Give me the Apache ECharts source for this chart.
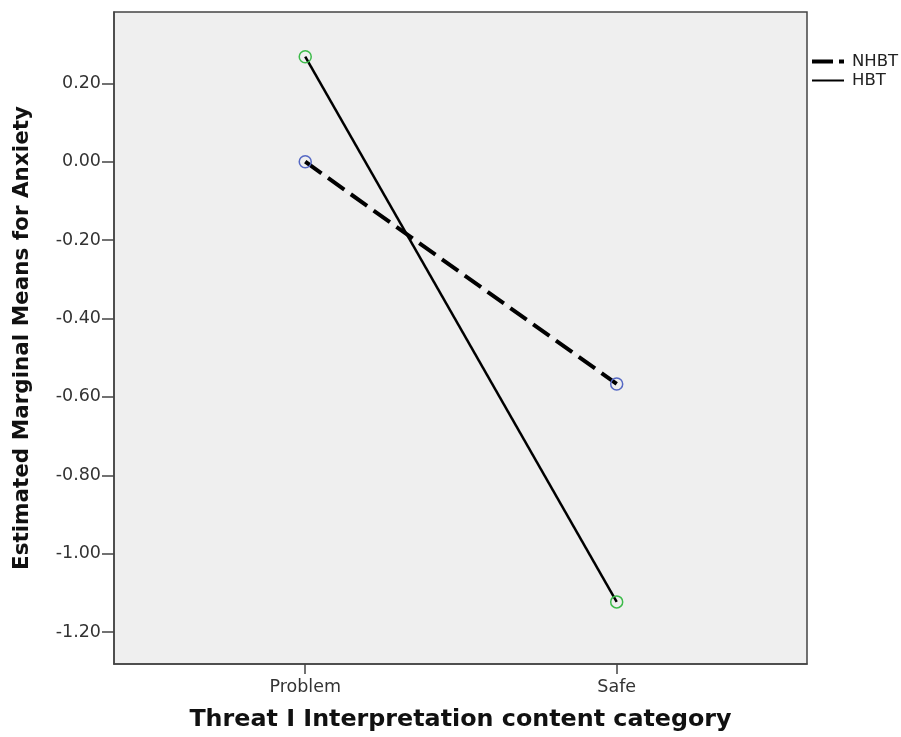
<!DOCTYPE html>
<html>
<head>
<meta charset="utf-8">
<script src="https://cdn.jsdelivr.net/npm/echarts@6/dist/echarts.min.js"></script>
<style>
html,body{margin:0;padding:0;background:#fff;}
#chart{width:901px;height:737px;}
</style>
</head>
<body>
<div id="chart"></div>
<script>
const categories = ['Problem', 'Safe'];
const seriesNames = ['NHBT', 'HBT'];
const nhbtValues = [0.00, -0.567];
const hbtValues = [0.268, -1.123];
const yTickValues = [0.20, 0.00, -0.20, -0.40, -0.60, -0.80, -1.00, -1.20];
const xTickValues = [0, 1];

const chart = echarts.init(document.getElementById('chart'));
const font = 'DejaVu Sans';
const toPairs = vals => vals.map((v, i) => [i, v]);

chart.setOption({
  animation: false,
  backgroundColor: '#ffffff',
  grid: {
    left: 114, top: 12, right: 94, bottom: 72,
    show: true, backgroundColor: '#efefef', borderColor: '#444', borderWidth: 1.5
  },
  legend: [
    {
      left: 812, top: 53, orient: 'vertical', padding: 0,
      itemWidth: 32, itemHeight: 4, itemGap: 6,
      textStyle: { fontFamily: font, fontSize: 16.5, color: '#222', padding: [0, 0, 0, 3] },
      data: [{ name: seriesNames[0], icon: 'path://M0,0H21V4H0Z M27,0H32V4H27Z', itemStyle: { color: '#000', borderWidth: 0 } }]
    },
    {
      left: 812, top: 72, orient: 'vertical', padding: 0,
      itemWidth: 32, itemHeight: 2,
      textStyle: { fontFamily: font, fontSize: 16.5, color: '#222', padding: [0, 0, 0, 3] },
      data: [{ name: seriesNames[1], icon: 'rect', itemStyle: { color: '#000', borderWidth: 0 } }]
    }
  ],
  xAxis: {
    type: 'value', min: -0.614, max: 1.611,
    name: 'Threat I Interpretation content category',
    nameLocation: 'middle', nameGap: 44,
    nameTextStyle: { fontFamily: font, fontSize: 23.8, fontWeight: 'bold', color: '#111' },
    axisLine: { show: true, onZero: false, lineStyle: { color: '#444', width: 1.5 } },
    axisTick: { show: true, customValues: xTickValues, length: 10, lineStyle: { color: '#444', width: 1.5 } },
    axisLabel: {
      customValues: xTickValues, fontFamily: font, fontSize: 17.5, color: '#333', margin: 14,
      formatter: v => categories[Math.round(v)]
    },
    splitLine: { show: false }
  },
  yAxis: {
    type: 'value', min: -1.2815, max: 0.382,
    name: 'Estimated Marginal Means for Anxiety',
    nameLocation: 'middle', nameGap: 81,
    nameTextStyle: { fontFamily: font, fontSize: 21.5, fontWeight: 'bold', color: '#111' },
    axisLine: { show: true, onZero: false, lineStyle: { color: '#444', width: 1.5 } },
    axisTick: { show: true, customValues: yTickValues, length: 12, lineStyle: { color: '#444', width: 1.5 } },
    axisLabel: {
      customValues: yTickValues, fontFamily: font, fontSize: 17.5, color: '#333', margin: 13,
      formatter: v => v.toFixed(2)
    },
    splitLine: { show: false }
  },
  series: [
    {
      name: seriesNames[0], type: 'line', data: toPairs(nhbtValues),
      symbol: 'circle', symbolSize: 12,
      itemStyle: { color: 'rgba(0,0,0,0)', borderColor: '#5568c4', borderWidth: 1.5 },
      lineStyle: { color: '#000', width: 4, type: [20, 8] },
      z: 3
    },
    {
      name: seriesNames[1], type: 'line', data: toPairs(hbtValues),
      symbol: 'circle', symbolSize: 12,
      itemStyle: { color: 'rgba(0,0,0,0)', borderColor: '#3dbb4a', borderWidth: 1.5 },
      lineStyle: { color: '#000', width: 2.5 },
      z: 3
    }
  ]
});
</script>
</body>
</html>
